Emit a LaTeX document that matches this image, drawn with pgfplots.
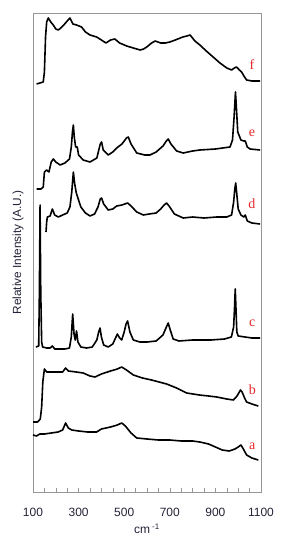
\documentclass[border=0pt]{standalone}
\usepackage{pgfplots}
\pgfplotsset{compat=1.18}
\usepackage{fontspec}
\setmainfont{Liberation Sans}
\newfontfamily\serifred{Liberation Serif}
\definecolor{txt}{RGB}{35,35,55}
\definecolor{frame}{RGB}{150,150,150}
\definecolor{lbl}{RGB}{230,40,40}
\pgfplotsset{spec/.style={black, mark=none, line width=1.6pt, line join=round}}
\begin{document}
\begin{tikzpicture}
\path[use as bounding box] (-33pt,-58pt) rectangle (256pt,492pt);
\begin{axis}[
  at={(0pt,0pt)}, anchor=south west,
  scale only axis, width=228pt, height=479pt,
  xmin=100, xmax=1100, ymin=0, ymax=479,
  xtick={100,300,...,1100}, minor x tick num=3,
  ytick=\empty,
  xtick pos=bottom, tick align=inside,
  major tick length=4pt, minor tick length=4pt,
  axis line style={frame}, every tick/.style={frame},
  /pgf/number format/assume math mode=true,
  /pgf/number format/set thousands separator={},
  xticklabel style={font=\fontsize{12}{14}\selectfont, text=txt, anchor=center, yshift=-20pt},
  xlabel={cm\,\textsuperscript{-1}},
  xlabel style={font=\fontsize{12}{14}\selectfont, text=txt, at={(axis description cs:0.5,0)}, anchor=center, yshift=-36.5pt},
  ylabel={Relative Intensity (A.U.)},
  ylabel style={font=\fontsize{11.8}{14}\selectfont, text=txt, at={(axis description cs:0,0.5)}, anchor=center, yshift=15pt},
]
% a
\addplot[spec] coordinates {(100,57)(115,56)(130,58)(150,58)(180,59)(210,60)(230,62)(243,69)(255,64)(270,62)(300,61)(340,60)(379,60)(400,63)(440,65)(470,67)(489,69)(505,66)(530,59)(555,54)(600,53)(650,52)(700,52)(750,51)(800,51)(832,50)(870,48)(900,45)(930,42)(960,41)(986,43)(1000,45)(1012,47)(1020,44)(1037,37)(1060,34)(1088,32)};
% b
\addplot[spec] coordinates {(101,70)(120,70)(132,73)(138,85)(143,110)(150,123)(160,120)(190,120)(230,120)(243,124)(255,121)(290,120)(320,119)(350,116)(372,115)(400,118)(440,121)(470,123)(489,125)(510,122)(540,117)(580,114)(620,112)(686,108)(730,104)(774,99)(830,97)(870,96)(906,95)(950,93)(979,92)(995,96)(1010,102)(1017,100)(1030,93)(1037,90)(1060,88)(1088,86)};
% c
\addplot[spec] coordinates {(113,145)(125,146)(128,200)(131,287)(134,200)(138,150)(142,145)(160,144)(175,144)(185,146)(195,143)(210,143)(240,143)(260,144)(268,155)(274,178)(280,158)(285,152)(291,161)(297,150)(310,145)(335,144)(360,145)(380,152)(388,160)(394,164)(400,155)(410,147)(430,145)(450,148)(462,154)(470,158)(480,154)(489,152)(500,160)(508,168)(515,171)(525,160)(540,152)(569,150)(600,150)(640,151)(670,157)(685,165)(693,169)(702,162)(715,153)(740,151)(800,152)(880,152)(940,153)(970,155)(980,165)(984,185)(987,203)(990,185)(994,160)(1000,156)(1030,155)(1060,154)(1096,154)};
% d
\addplot[spec] coordinates {(157,260)(160,270)(163,275)(175,276)(185,283)(195,277)(211,275)(230,277)(250,279)(262,285)(270,300)(277,320)(283,308)(290,299)(297,294)(310,285)(330,279)(350,276)(370,278)(385,285)(395,293)(401,294)(410,288)(430,282)(450,283)(467,286)(490,287)(515,289)(530,286)(555,280)(584,277)(610,278)(640,279)(660,283)(675,287)(686,289)(700,285)(720,278)(759,274)(800,275)(850,274)(906,275)(950,275)(971,277)(980,290)(985,303)(989,309)(993,300)(1000,283)(1012,277)(1025,275)(1031,277)(1040,271)(1060,269)(1096,268)};
% e
\addplot[spec] coordinates {(116,303)(135,303)(145,305)(150,320)(160,322)(170,320)(180,330)(189,333)(200,330)(219,327)(240,329)(260,333)(268,345)(273,360)(277,367)(281,355)(287,345)(294,345)(300,337)(320,332)(350,330)(380,334)(395,348)(401,350)(408,342)(430,337)(450,340)(467,344)(490,348)(510,354)(518,355)(530,348)(555,339)(590,337)(613,337)(640,340)(670,346)(685,351)(693,353)(705,348)(730,341)(759,339)(800,341)(832,342)(900,343)(964,345)(975,352)(982,375)(988,400)(992,385)(998,360)(1012,352)(1025,351)(1031,351)(1040,345)(1052,343)(1096,342)};
% f
\addplot[spec] coordinates {(116,408)(130,409)(145,410)(150,420)(155,455)(160,470)(167,474)(178,470)(189,467)(200,463)(211,462)(222,464)(235,467)(250,471)(262,474)(275,468)(291,467)(313,465)(330,460)(350,457)(379,455)(400,452)(420,449)(440,452)(459,453)(480,449)(511,446)(540,444)(570,442)(585,443)(599,445)(620,449)(636,451)(660,449)(680,449)(700,450)(724,452)(757,455)(775,456)(789,457)(810,451)(832,447)(860,441)(890,435)(920,429)(950,424)(971,422)(983,424)(993,425)(1005,422)(1015,420)(1025,416)(1037,412)(1060,411)(1096,411)};
\node[text=lbl, font=\serifred\fontsize{14}{16}\selectfont] at (axis cs:1062,46) {a};
\node[text=lbl, font=\serifred\fontsize{14}{16}\selectfont] at (axis cs:1062,102) {b};
\node[text=lbl, font=\serifred\fontsize{14}{16}\selectfont] at (axis cs:1062,169) {c};
\node[text=lbl, font=\serifred\fontsize{14}{16}\selectfont] at (axis cs:1060,288) {d};
\node[text=lbl, font=\serifred\fontsize{14}{16}\selectfont] at (axis cs:1060,359) {e};
\node[text=lbl, font=\serifred\fontsize{14}{16}\selectfont] at (axis cs:1060,427) {f};
\end{axis}
\end{tikzpicture}
\end{document}
